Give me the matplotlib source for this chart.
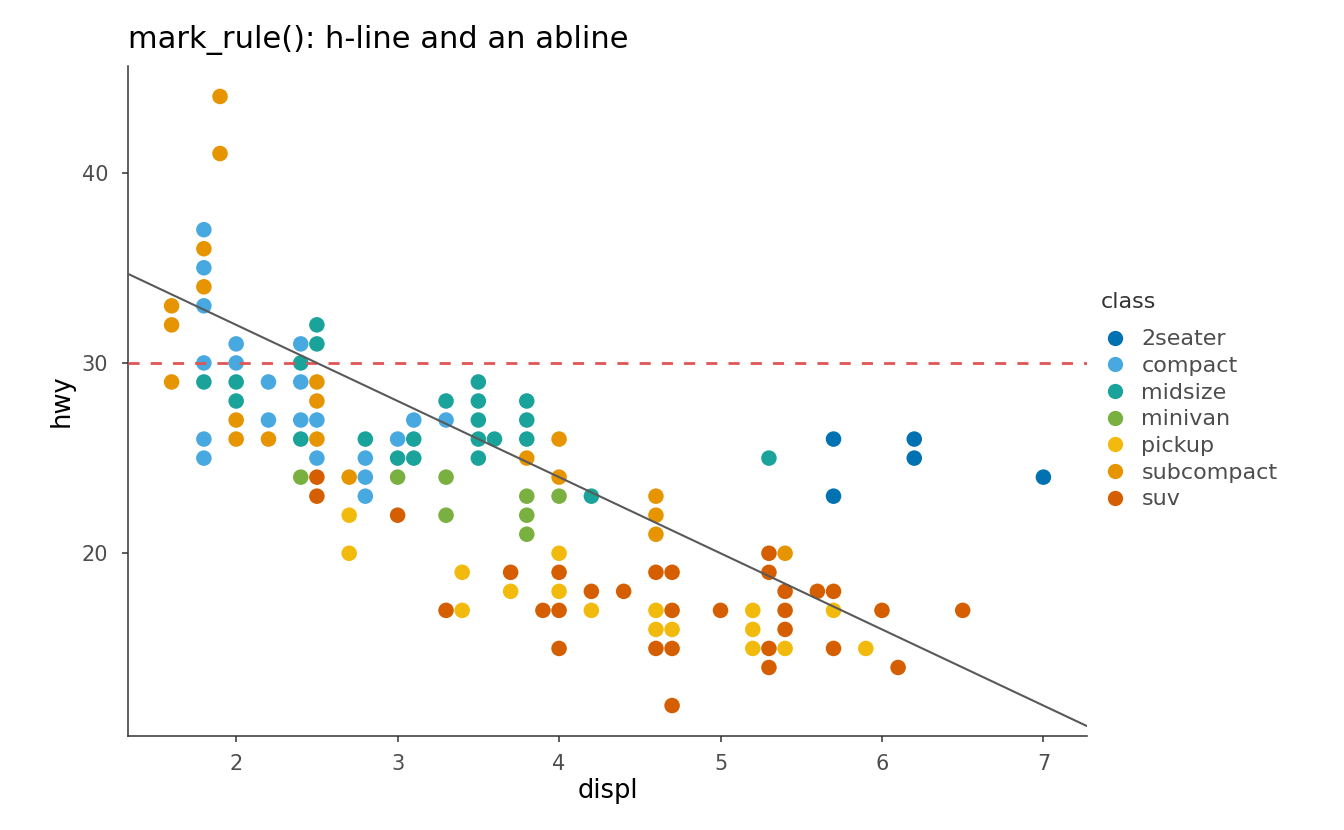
import matplotlib
matplotlib.use("Agg")
import matplotlib.pyplot as plt
from matplotlib.lines import Line2D

plt.rcParams['font.family'] = ['DejaVu Sans']

classes = ["2seater", "compact", "midsize", "minivan", "pickup", "subcompact", "suv"]
colors = ["#0072B2", "#48A9E1", "#1AA39A", "#7AB040", "#F1BA0C", "#E69500", "#D55E00"]

displ_2seater = [5.7, 5.7, 6.2, 6.2, 7.0]
hwy_2seater = [26, 23, 26, 25, 24]

displ_compact = [1.8, 1.8, 1.8, 1.8, 1.8, 1.8, 2.0, 2.0, 2.2, 2.2, 2.4, 2.4, 2.4,
                 2.5, 2.5, 2.8, 2.8, 2.8, 3.0, 3.1, 3.3]
hwy_compact = [37, 35, 33, 30, 26, 25, 31, 30, 29, 27, 31, 29, 27,
               27, 25, 25, 24, 23, 26, 27, 27]

displ_midsize = [1.8, 2.0, 2.0, 2.4, 2.4, 2.5, 2.5, 2.8, 3.0, 3.1, 3.1, 3.3, 3.5, 3.5,
                 3.5, 3.5, 3.5, 3.6, 3.8, 3.8, 3.8, 4.2, 5.3]
hwy_midsize = [29, 29, 28, 30, 26, 32, 31, 26, 25, 26, 25, 28, 29, 28,
               27, 26, 25, 26, 28, 27, 26, 23, 25]

displ_minivan = [2.4, 3.0, 3.3, 3.3, 3.8, 3.8, 3.8, 4.0]
hwy_minivan = [24, 24, 24, 22, 23, 22, 21, 23]

displ_pickup = [2.7, 2.7, 3.4, 3.4, 3.7, 4.0, 4.0, 4.2, 4.6, 4.6, 4.7, 5.2, 5.2, 5.2,
                5.4, 5.7, 5.9]
hwy_pickup = [22, 20, 19, 17, 18, 20, 18, 17, 17, 16, 16, 17, 16, 15,
              15, 17, 15]

displ_subcompact = [1.6, 1.6, 1.6, 1.8, 1.8, 1.9, 1.9, 2.0, 2.0, 2.2, 2.5, 2.5, 2.5,
                    2.7, 3.8, 4.0, 4.0, 4.6, 4.6, 4.6, 5.4]
hwy_subcompact = [33, 32, 29, 36, 34, 44, 41, 27, 26, 26, 29, 28, 26,
                  24, 25, 26, 24, 23, 22, 21, 20]

displ_suv = [2.5, 2.5, 3.0, 3.3, 3.7, 3.9, 4.0, 4.0, 4.0, 4.2, 4.4, 4.6, 4.6, 4.7,
             4.7, 4.7, 4.7, 5.0, 5.3, 5.3, 5.3, 5.3, 5.4, 5.4, 5.4, 5.6, 5.7, 5.7,
             6.0, 6.1, 6.5]
hwy_suv = [24, 23, 22, 17, 19, 17, 19, 17, 15, 18, 18, 19, 15, 19,
           17, 15, 12, 17, 20, 19, 15, 14, 18, 17, 16, 18, 18, 15,
           17, 14, 17]

series = [
    (displ_2seater, hwy_2seater),
    (displ_compact, hwy_compact),
    (displ_midsize, hwy_midsize),
    (displ_minivan, hwy_minivan),
    (displ_pickup, hwy_pickup),
    (displ_subcompact, hwy_subcompact),
    (displ_suv, hwy_suv),
]

hline_y = 30
abline_intercept = 40
abline_slope = -4

fig = plt.figure(figsize=(13.44, 8.30), dpi=100)
ax = fig.add_axes([128 / 1344, 1 - 736 / 830, (1087 - 128) / 1344, (736 - 66) / 830])

for (xs, ys), c in zip(series, colors):
    ax.scatter(xs, ys, s=125, color=c, edgecolors='none', zorder=2)

ax.set_xlim(1.33, 7.27)
ax.set_ylim(10.4, 45.6)

ax.axhline(hline_y, color="#E05555", lw=2, ls=(0, (4, 4)), zorder=3)
ax.axline((0, abline_intercept), slope=abline_slope, color="#595959", lw=1.5, zorder=3)

ax.set_xticks([2, 3, 4, 5, 6, 7])
ax.set_yticks([20, 30, 40])
for s in ['top', 'right']:
    ax.spines[s].set_visible(False)
for s in ['left', 'bottom']:
    ax.spines[s].set_color("#333333")
    ax.spines[s].set_linewidth(1.1)
ax.tick_params(axis='both', colors="#333333", labelcolor="#4D4D4D", labelsize=15,
               length=4.3, width=1.1, direction='out')
ax.tick_params(axis='x', pad=8.5)
ax.tick_params(axis='y', pad=10)

ax.set_xlabel("displ", fontsize=18.5, color="black", labelpad=3)
ax.set_ylabel("hwy", fontsize=18.5, color="black", labelpad=5)
ax.set_title("mark_rule(): h-line and an abline", fontsize=22, loc='left',
             color="black", pad=13, x=0.0)

handles = [Line2D([0], [0], marker='o', ls='none', markersize=11, markerfacecolor=c,
                  markeredgecolor='none') for c in colors]
leg = fig.legend(handles, classes, loc='upper left',
                 bbox_to_anchor=(1096.6 / 1344, 1 - 325 / 830), frameon=False,
                 fontsize=16, handlelength=1.27, handletextpad=0.545,
                 labelspacing=0.30, borderpad=0.2, borderaxespad=0)
for t in leg.get_texts():
    t.set_color("#4D4D4D")
fig.text(1101 / 1344, 1 - 302 / 830, "class", fontsize=16, color="#333333",
         ha='left', va='center')

fig.savefig("out.png", dpi=100)
